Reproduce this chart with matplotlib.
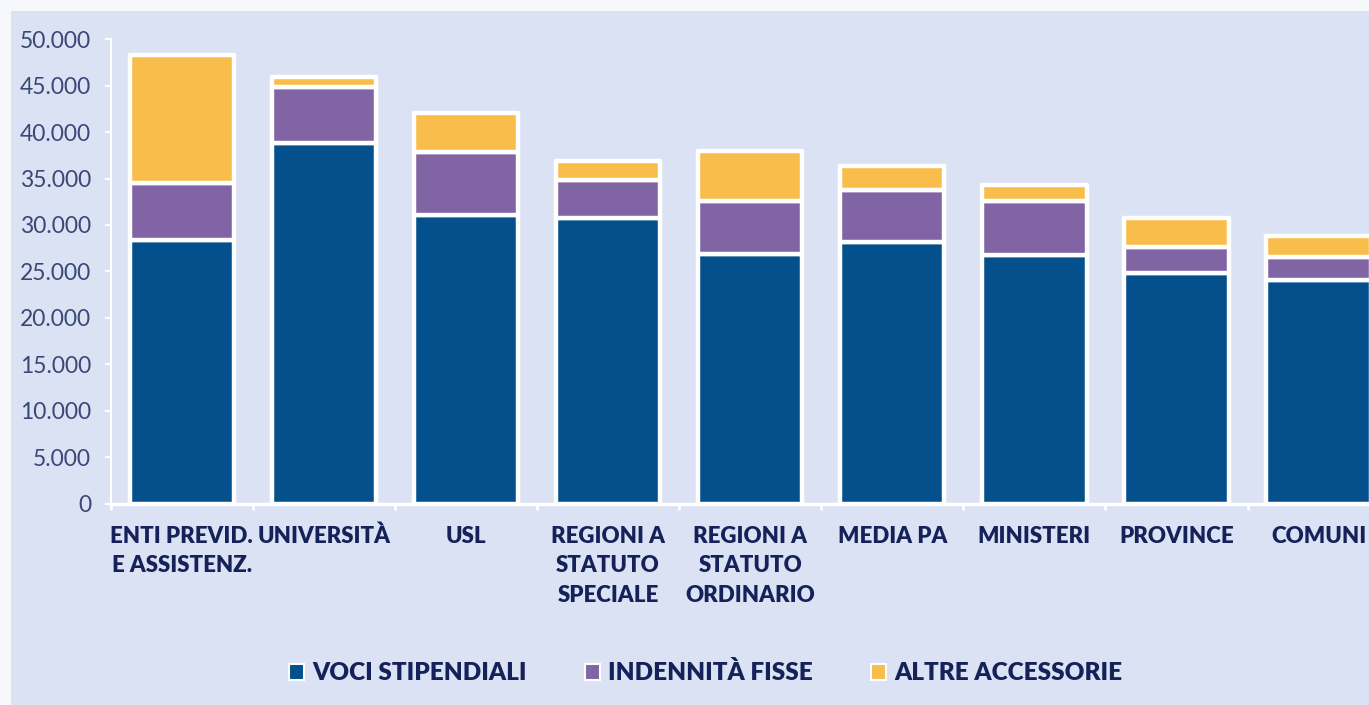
import matplotlib
matplotlib.use("Agg")
import matplotlib.pyplot as plt
from matplotlib.patches import Rectangle, Patch
from matplotlib.ticker import FuncFormatter, FixedLocator
import numpy as np

categories = ["ENTI PREVID.\nE ASSISTENZ.", "UNIVERSITÀ", "USL",
              "REGIONI A\nSTATUTO\nSPECIALE", "REGIONI A\nSTATUTO\nORDINARIO",
              "MEDIA PA", "MINISTERI", "PROVINCE", "COMUNI"]
voci_stipendiali = [28380, 38810, 31100, 30700, 26840, 28200, 26820, 24880, 24050]
indennita_fisse = [6090, 6070, 6780, 4120, 5760, 5550, 5780, 2780, 2520]
altre_accessorie = [13890, 1110, 4230, 2070, 5370, 2600, 1710, 3040, 2240]
series_names = ["VOCI STIPENDIALI", "INDENNITÀ FISSE", "ALTRE ACCESSORIE"]
yticks = list(range(0, 50001, 5000))

colors = ["#03508c", "#8064a3", "#f9bd4b"]
bg = "#dbe2f3"
navy = "#15225a"
ylab_color = "#3a4878"
label_font = ["Lato", "DejaVu Sans"]

W, H = 1369, 705
fig = plt.figure(figsize=(W / 100, H / 100), dpi=100, facecolor="#f7f8fc")
fig.patches.append(Rectangle((11 / W, 0), 1, 1 - 11 / H, transform=fig.transFigure,
                             facecolor=bg, edgecolor="none", zorder=-10))

ax = fig.add_axes([110.7 / W, (H - 503.5) / H, 1 - 110.7 / W, (503.5 - 39.3) / H])
ax.set_facecolor("none")

x = np.arange(len(categories))
bottom = np.zeros(len(categories))
for vals, c in zip([voci_stipendiali, indennita_fisse, altre_accessorie], colors):
    bars = ax.bar(x, vals, width=0.735, bottom=bottom, color=c, edgecolor="white",
                  linewidth=3.2, zorder=3)
    for b in bars:
        b.set_joinstyle("round")
    bottom += np.array(vals)

ax.set_xlim(-0.5, 8.355)
ax.set_ylim(0, 50000)
ax.yaxis.set_major_locator(FixedLocator(yticks))
ax.yaxis.set_major_formatter(FuncFormatter(lambda v, p: f"{int(v):,}".replace(",", ".")))

ax.set_xticks(x)
ax.set_xticklabels(categories, fontsize=16, fontweight="heavy", color=navy,
                   family=label_font, linespacing=1.5)
ax.set_xticks(np.arange(-0.5, 8.5, 1), minor=True)
ax.tick_params(axis="x", which="major", length=0, pad=16)
ax.tick_params(axis="x", which="minor", length=4, width=2, color="white")
ax.tick_params(axis="y", length=4, width=1.5, color="white", labelsize=16.5,
               labelcolor=ylab_color, pad=10)
for lbl in ax.get_yticklabels():
    lbl.set_family(["Lato", "DejaVu Sans"])

for s in ["top", "right"]:
    ax.spines[s].set_visible(False)
ax.spines["left"].set_color("white")
ax.spines["left"].set_linewidth(1.5)
ax.spines["bottom"].set_color("white")
ax.spines["bottom"].set_linewidth(2.5)

handles = [Patch(facecolor=c, edgecolor="white", linewidth=1.5) for c in colors]
leg = fig.legend(handles, series_names, loc="center", bbox_to_anchor=(706 / W, (H - 673) / H),
                 ncol=3, frameon=False, handlelength=0.6, handleheight=0.6,
                 handletextpad=0.35, columnspacing=2.4,
                 prop={"family": label_font, "weight": "heavy", "size": 17.5})
for t in leg.get_texts():
    t.set_color(navy)

fig.savefig("out.png", dpi=100, facecolor=fig.get_facecolor())
